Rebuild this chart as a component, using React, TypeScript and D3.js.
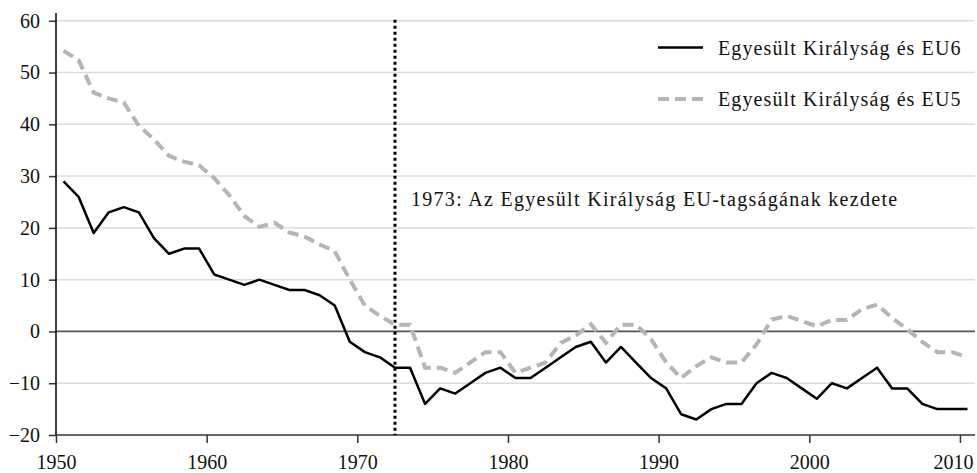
import * as d3 from "d3";
import { useEffect, useRef } from "react";

// years 1951..2011, each plotted in the middle of its year slot
const years = d3.range(1951, 2012);

const ukEu6 = [
    29, 26, 19, 23, 24, 23, 18, 15, 16, 16,
    11, 10, 9, 10, 9, 8, 8, 7, 5, -2,
    -4, -5, -7, -7, -14, -11, -12, -10, -8, -7,
    -9, -9, -7, -5, -3, -2, -6, -3, -6, -9,
    -11, -16, -17, -15, -14, -14, -10, -8, -9, -11,
    -13, -10, -11, -9, -7, -11, -11, -14, -15, -15,
    -15,
];

const ukEu5 = [
    54.2, 52.4, 46.1, 45, 44.2, 39.7, 37.1, 33.9, 32.8, 32.1,
    29.6, 26.3, 22.3, 20.2, 21, 19.1, 18.3, 16.8, 15.5, 10,
    5, 3, 1.3, 1.3, -7, -7, -8, -6, -4, -4,
    -8, -7, -6, -2.2, -0.8, 1.4, -2.2, 1.3, 1.3, -1.5,
    -6, -9, -6.7, -5, -6, -6, -2.5, 2.3, 3, 2,
    1, 2.2, 2.2, 4.3, 5.2, 2.6, 0.4, -2, -4, -4,
    -5,
];

const xTicks = [1950, 1960, 1970, 1980, 1990, 2000, 2010];
const yTicks = [-20, -10, 0, 10, 20, 30, 40, 50, 60];

const seriesNames = ["Egyesült Királyság és EU6", "Egyesült Királyság és EU5"];
const eventYear = 1973;
const eventLabel = "1973: Az Egyesült Királyság EU-tagságának kezdete";

const font = "Liberation Serif, DejaVu Serif, serif";
const grey = "#b5b5b5";

export default function App() {
    const svgRef = useRef(null);

    const width = 977;
    const height = 473;

    useEffect(() => {
        const svg = d3.select(svgRef.current);
        svg.selectAll('*').remove();

        const x = d3.scaleLinear().domain([1950, 2011]).range([56, 975]);
        const y = d3.scaleLinear().domain([-20, 61.5]).range([435, 13]);
        // a year's value sits in the middle of its slot
        const xYear = (yr: number) => x(yr - 0.5);

        // horizontal grid
        svg.append('g')
            .selectAll('line')
            .data(yTicks.filter(t => t !== 0 && t !== -20))
            .join('line')
            .attr('x1', x(1950))
            .attr('x2', x(2011))
            .attr('y1', d => y(d))
            .attr('y2', d => y(d))
            .attr('stroke', '#dcdcdc')
            .attr('stroke-width', 1.5);

        // zero line
        svg.append('line')
            .attr('x1', x(1950))
            .attr('x2', x(2011))
            .attr('y1', y(0))
            .attr('y2', y(0))
            .attr('stroke', '#555')
            .attr('stroke-width', 1.8);

        // y axis
        const yAxis = svg.append('g')
            .attr('transform', `translate(${x(1950)},0)`)
            .call(d3.axisLeft(y).tickValues(yTicks).tickSize(7).tickPadding(9)
                .tickFormat(d => (+d < 0 ? '\u2212' + Math.abs(+d) : String(d))));
        yAxis.select('.domain').remove();
        yAxis.append('line')
            .attr('x1', 0).attr('x2', 0)
            .attr('y1', y(61.5)).attr('y2', y(-20))
            .attr('stroke', '#000').attr('stroke-width', 1.5);

        // x axis
        const xAxis = svg.append('g')
            .attr('transform', `translate(0,${y(-20)})`)
            .call(d3.axisBottom(x).tickValues(xTicks).tickSize(8).tickPadding(12)
                .tickFormat(d => String(d)));
        xAxis.select('.domain').remove();
        xAxis.append('line')
            .attr('x1', x(1950)).attr('x2', x(2011))
            .attr('stroke', '#333').attr('stroke-width', 1.5);
        // last label is nudged left so it stays inside the frame
        xAxis.selectAll('.tick text')
            .attr('dx', d => (d === 2010 ? -7 : 0));

        svg.selectAll('.tick line').attr('stroke', '#333').attr('stroke-width', 1.5);
        svg.selectAll('g').attr('font-family', null);
        svg.selectAll('.tick text')
            .style('font-family', font)
            .attr('font-size', 20)
            .attr('fill', '#111');

        // event marker
        svg.append('line')
            .attr('x1', xYear(eventYear))
            .attr('x2', xYear(eventYear))
            .attr('y1', y(60) - 1)
            .attr('y2', y(-20))
            .attr('stroke', '#000')
            .attr('stroke-width', 3)
            .attr('stroke-dasharray', '3,3');

        svg.append('text')
            .attr('x', xYear(eventYear) + 16)
            .attr('y', y(24.3))
            .style('font-family', font)
            .style('letter-spacing', '1.3px')
            .attr('font-size', 20)
            .attr('fill', '#111')
            .text(eventLabel);

        const line = d3.line<number>()
            .x((_, i) => xYear(years[i]))
            .y(d => y(d));

        svg.append('path')
            .datum(ukEu5)
            .attr('d', line)
            .attr('fill', 'none')
            .attr('stroke', grey)
            .attr('stroke-width', 4)
            .attr('stroke-dasharray', '11,6');

        svg.append('path')
            .datum(ukEu6)
            .attr('d', line)
            .attr('fill', 'none')
            .attr('stroke', '#000')
            .attr('stroke-width', 2.5)
            .attr('stroke-linejoin', 'round');

        // legend
        const legend = svg.append('g').attr('transform', 'translate(658,0)');
        const legendStyles = [
            { stroke: '#000', w: 2.5, dash: null },
            { stroke: grey, w: 4, dash: '11,6' },
        ];
        seriesNames.forEach((name, i) => {
            const ly = 47.5 + i * 51.5;
            legend.append('line')
                .attr('x1', 0).attr('x2', 45)
                .attr('y1', ly).attr('y2', ly)
                .attr('stroke', legendStyles[i].stroke)
                .attr('stroke-width', legendStyles[i].w)
                .attr('stroke-dasharray', legendStyles[i].dash);
            legend.append('text')
                .attr('x', 60)
                .attr('y', ly + 7)
                .style('font-family', font)
                .style('letter-spacing', '1.1px')
                .attr('font-size', 20)
                .attr('fill', '#111')
                .text(name);
        });
    }, []);

    return (
        <svg ref={svgRef} width={width} height={height}
            style={{ position: 'absolute', left: 0, top: 0, background: '#fff' }}>
        </svg>
    );
}
